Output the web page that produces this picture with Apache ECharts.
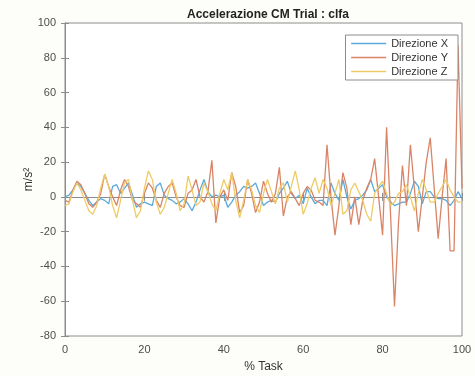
<!DOCTYPE html>
<html>
<head>
<meta charset="utf-8">
<script src="https://cdn.jsdelivr.net/npm/echarts@6/dist/echarts.min.js"></script>
<style>html,body{margin:0;padding:0;background:#FDFDF9;}#c{width:475px;height:376px;}</style>
</head>
<body>
<div id="c"></div>
<script>
var titleText = 'Accelerazione CM Trial : clfa';
var xName = '% Task';
var yName = 'm/s²';
var seriesNames = ['Direzione X', 'Direzione Y', 'Direzione Z'];
var xTicks = [0, 20, 40, 60, 80, 100];
var yTicks = [-80, -60, -40, -20, 0, 20, 40, 60, 80, 100];

// % task sample positions
var task = [];
for (var i = 0; i <= 100; i++) task.push(i);

var dirX = [0, 1, 4, 8, 6, 2, -2, -5, -3, -1, -2, -4, 6, 7, 2, 5, 8, 1, -6, -4,
  -3, -4, -5, 6, 8, 1, -1, -2, -4, -3, -1, -4, -8, -3, 4, 10, 3, 0, 1, 0,
  1, -6, -3, 1, 3, 6, 5, 6, 8, 2, -5, -3, -2, -3, 2, 5, 9, 2, -1, 1,
  -4, 5, 0, -4, -2, -2, -5, 8, 2, -2, 10, 0, -7, -2, -1, 1, 4, 10, 3, 5,
  7, 0, -3, -5, -4, -3, -3, 2, 9, 6, -4, 3, 3, 0, -1, -1, -2, -5, -2, 3, -1];

var dirY = [-2, -3, 4, 9, 7, 2, -4, -6, -3, 2, 13, 6, 0, -5, 4, 10, 6, -2, -4, -6,
  2, 8, 5, -2, -6, 2, 6, 8, 0, -5, -6, 2, 4, 10, 0, -3, 3, 21, -15, 0,
  4, -2, 14, 6, -9, -5, 10, 2, -9, -3, 9, 2, -3, 2, 17, -11, 0, 3, -1, -5,
  2, 6, 4, -2, -3, -5, 30, 0, -22, -5, 14, 5, -16, 0, -16, -2, 5, 10, 22, 0,
  -22, 40, -10, -63, -15, 18, -5, 30, 5, -20, 0, 20, 34, 5, -24, 0, 22, -31, -31, 87, 5];

var dirZ = [-5, -4, 3, 8, 4, -2, -8, -10, -5, 5, 13, 6, -5, -12, -2, 8, 10, -2, -12, -8,
  5, 15, 10, -3, -10, -6, 2, 10, 2, -8, -4, 12, 4, -5, -3, 8, 3, -4, -8, 2,
  10, 4, 14, -2, -12, -2, 10, 4, -5, -9, 2, 10, 3, -4, 5, 8, -3, 6, 15, 4,
  -10, -4, 5, 11, 2, 10, 5, -5, 2, 10, -10, -8, 4, 8, 3, -2, -10, -14, 2, 6,
  9, 2, -5, -3, 2, 3, 7, 0, -8, 2, 10, 4, -3, -3, 2, 6, 10, 4, 0, -3, -3];

var colors = ['#5AAADB', '#D98466', '#EFCB66'];

function pairs(arr) {
  return arr.map(function (v, i) { return [task[i], v]; });
}

var chart = echarts.init(document.getElementById('c'), null, {renderer: 'canvas'});
var labelColor = '#4D4D4D';
var axisColor = '#8C8C8C';
var fontFam = '"Liberation Sans", Arial, Helvetica, sans-serif';

chart.setOption({
  backgroundColor: '#FDFDF9',
  animation: false,
  textStyle: {fontFamily: fontFam},
  title: {
    text: titleText,
    left: 263, top: 4, textAlign: 'center',
    textStyle: {fontSize: 12, fontWeight: 'bold', color: '#222', fontFamily: fontFam}
  },
  legend: {
    data: seriesNames,
    orient: 'vertical',
    right: 17, top: 35,
    itemWidth: 35, itemHeight: 11, itemGap: 3,
    padding: [3, 10, 3, 5],
    borderColor: '#8C8C8C', borderWidth: 1,
    backgroundColor: '#FFFFFF',
    itemStyle: {opacity: 0},
    lineStyle: {width: 1.3},
    textStyle: {fontSize: 11, color: '#333', fontFamily: fontFam}
  },
  grid: {
    left: 65, right: 13, top: 23, bottom: 40,
    containLabel: false, outerBoundsMode: 'none',
    show: true, backgroundColor: '#FFFFFF', borderColor: axisColor, borderWidth: 1
  },
  xAxis: [{
    type: 'value', min: xTicks[0], max: xTicks[xTicks.length - 1], interval: 20,
    name: xName, nameLocation: 'middle', nameGap: 25, nameMoveOverlap: false,
    nameTextStyle: {fontSize: 12, color: '#333', fontFamily: fontFam},
    axisLine: {show: true, lineStyle: {color: axisColor}},
    axisTick: {show: true, inside: true, length: 4, lineStyle: {color: axisColor}},
    axisLabel: {fontSize: 11, color: labelColor, margin: 8, fontFamily: fontFam},
    splitLine: {show: false}
  }, {
    type: 'value', position: 'top', min: xTicks[0], max: xTicks[xTicks.length - 1], interval: 20,
    axisLine: {show: true, lineStyle: {color: axisColor}},
    axisTick: {show: true, inside: true, length: 4, lineStyle: {color: axisColor}},
    axisLabel: {show: false}, splitLine: {show: false}
  }],
  yAxis: [{
    type: 'value', min: yTicks[0], max: yTicks[yTicks.length - 1], interval: 20,
    name: yName, nameLocation: 'middle', nameGap: 30, nameRotate: 90, nameMoveOverlap: false,
    nameTextStyle: {fontSize: 12, color: '#333', fontFamily: fontFam},
    axisLine: {show: true, lineStyle: {color: axisColor}},
    axisTick: {show: true, inside: true, length: 4, lineStyle: {color: axisColor}},
    axisLabel: {fontSize: 11, color: labelColor, margin: 9, fontFamily: fontFam},
    splitLine: {show: false}
  }, {
    type: 'value', position: 'right', min: yTicks[0], max: yTicks[yTicks.length - 1], interval: 20,
    axisLine: {show: true, lineStyle: {color: axisColor}},
    axisTick: {show: true, inside: true, length: 4, lineStyle: {color: axisColor}},
    axisLabel: {show: false}, splitLine: {show: false}
  }],
  series: [
    {name: seriesNames[0], type: 'line', data: pairs(dirX), symbol: 'none', lineStyle: {width: 1.3, color: colors[0]}, itemStyle: {color: colors[0]}},
    {name: seriesNames[1], type: 'line', data: pairs(dirY), symbol: 'none', lineStyle: {width: 1.3, color: colors[1]}, itemStyle: {color: colors[1]}},
    {name: seriesNames[2], type: 'line', data: pairs(dirZ), symbol: 'none', lineStyle: {width: 1.3, color: colors[2]}, itemStyle: {color: colors[2]}}
  ]
});
</script>
</body>
</html>
